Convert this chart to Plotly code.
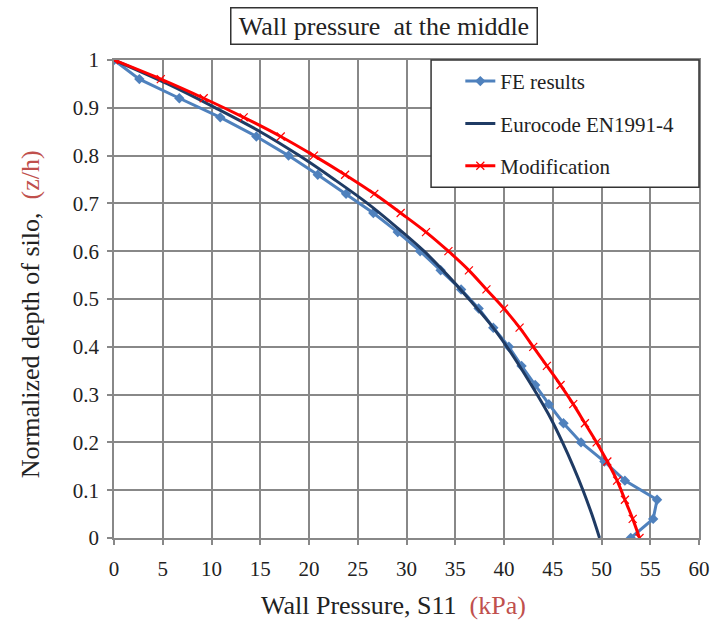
import plotly.graph_objects as go

# ---- data ----
fe_z = [1.00, 0.96, 0.92, 0.88, 0.84, 0.80, 0.76, 0.72, 0.68, 0.64, 0.60, 0.56, 0.52,
        0.48, 0.44, 0.40, 0.36, 0.32, 0.28, 0.24, 0.20, 0.16, 0.12, 0.08, 0.04, 0.00]
fe_p = [0.0, 2.6, 6.7, 10.9, 14.6, 17.9, 20.9, 23.8, 26.6, 29.1, 31.4, 33.5, 35.6,
        37.4, 38.9, 40.5, 41.8, 43.2, 44.6, 46.1, 47.9, 50.3, 52.4, 55.7, 55.3, 53.0]

euro_z = [1.00, 0.95, 0.90, 0.85, 0.80, 0.75, 0.70, 0.65, 0.60, 0.55, 0.50,
          0.45, 0.40, 0.35, 0.30, 0.25, 0.20, 0.15, 0.10, 0.05, 0.00]
euro_p = [0.0, 5.5, 10.4, 15.0, 19.0, 22.6, 26.0, 29.0, 31.8, 34.2, 36.4,
          38.5, 40.3, 41.9, 43.4, 44.8, 46.0, 47.1, 48.1, 49.0, 49.8]

mod_z = [1.00, 0.96, 0.92, 0.88, 0.84, 0.80, 0.76, 0.72, 0.68, 0.64, 0.60, 0.56, 0.52,
         0.48, 0.44, 0.40, 0.36, 0.32, 0.28, 0.24, 0.20, 0.16, 0.12, 0.08, 0.04, 0.00]
mod_p = [0.0, 4.8, 9.2, 13.3, 17.1, 20.5, 23.7, 26.7, 29.4, 32.0, 34.3, 36.4, 38.2,
         40.0, 41.6, 43.0, 44.4, 45.8, 47.1, 48.3, 49.5, 50.6, 51.6, 52.4, 53.2, 53.9]

x_ticks = [0, 5, 10, 15, 20, 25, 30, 35, 40, 45, 50, 55, 60]
y_ticks = [0, 0.1, 0.2, 0.3, 0.4, 0.5, 0.6, 0.7, 0.8, 0.9, 1]

names = ["FE results", "Eurocode EN1991-4", "Modification"]
title_text = "Wall pressure  at the middle"

FONT = "Liberation Serif, Times New Roman, serif"
RED_TXT = "#C0504D"
GRID = "#888888"

fig = go.Figure()
fig.add_trace(go.Scatter(
    x=fe_p, y=fe_z, name=names[0], mode="lines+markers", legendgroup="a",
    line=dict(color="#4F81BD", width=3),
    marker=dict(symbol="diamond", size=8, color="#4F81BD")))
fig.add_trace(go.Scatter(
    x=euro_p, y=euro_z, name=names[1], mode="lines", legendgroup="b",
    line=dict(color="#1F3B64", width=3, shape="spline")))
fig.add_trace(go.Scatter(
    x=mod_p, y=mod_z, name=names[2], mode="lines+markers", legendgroup="c",
    line=dict(color="#FF0000", width=3, shape="spline"),
    marker=dict(symbol="x-thin", size=8, color="#FF0000",
                line=dict(color="#FF0000", width=1.2))))

axis_common = dict(
    showgrid=True, gridcolor=GRID, gridwidth=1.6,
    showline=True, linecolor=GRID, linewidth=1.6, mirror=True,
    ticks="outside", ticklen=5, tickcolor=GRID, tickwidth=1.5,
    zeroline=False,
    tickfont=dict(family=FONT, size=21, color="#222222"),
)

fig.update_xaxes(range=[0, 60], tickvals=x_ticks, ticklabelstandoff=6, **axis_common)
fig.update_yaxes(range=[0, 1], tickvals=y_ticks, ticklabelstandoff=4, **axis_common)

fig.update_layout(
    width=722, height=626,
    margin=dict(l=114, r=14, t=60, b=88),
    paper_bgcolor="white", plot_bgcolor="white",
    font=dict(family=FONT, color="#222222"),
    showlegend=True,
    legend=dict(
        x=0.592, y=0.998, xanchor="left", yanchor="top",
        bgcolor="rgba(0,0,0,0)", borderwidth=0,
        traceorder="grouped", tracegroupgap=12,
        font=dict(family=FONT, size=21, color="#222222"),
    ),
    shapes=[dict(
        type="rect", xref="paper", yref="paper",
        x0=0.542, x1=1.0, y0=0.734, y1=1.0,
        line=dict(color="#333333", width=1.5),
        fillcolor="white", layer="above")],
    annotations=[
        dict(text=title_text, xref="paper", yref="paper", x=0.462, y=1.072,
             xanchor="center", yanchor="middle", showarrow=False,
             font=dict(family=FONT, size=26, color="#222222"),
             bordercolor="#333333", borderwidth=1.5, borderpad=1,
             bgcolor="white", width=303, height=33),
        dict(text="Wall Pressure, S11  <span style='color:%s'>(kPa)</span>" % RED_TXT,
             xref="paper", yref="paper", x=0.478, y=-0.142,
             xanchor="center", yanchor="middle", showarrow=False,
             font=dict(family=FONT, size=26, color="#222222")),
        dict(text="Normalized depth of silo,  <span style='color:%s'>(z/h)</span>" % RED_TXT,
             xref="paper", yref="paper", x=-0.143, y=0.469, textangle=-90,
             xanchor="center", yanchor="middle", showarrow=False,
             font=dict(family=FONT, size=26, color="#222222")),
    ],
)

fig.write_html("out.html")
